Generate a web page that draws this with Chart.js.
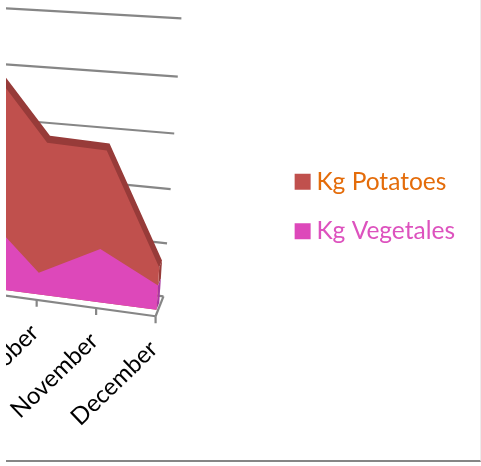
<!DOCTYPE html>
<html>
<head>
<meta charset="utf-8">
<script src="https://cdn.jsdelivr.net/npm/chart.js@4"></script>
<style>
html,body{margin:0;padding:0;background:#fff;overflow:hidden}
#frame{position:absolute;left:6px;top:0;width:474px;height:460px;border-bottom:2px solid #868686;border-right:1px solid #ececec;overflow:hidden}
canvas{display:block;margin-left:-4px}
</style>
</head>
<body>
<div id="frame"><canvas id="c" width="478" height="460"></canvas></div>
<script>
// --- data ---
const categories = ['September', 'October', 'November', 'December'];
const seriesNames = ['Kg Potatoes', 'Kg Vegetales'];
const potatoes = [395, 280, 280, 80];
const vegetales = [140, 41, 100, 46];
const tickValues = [0, 100, 200, 300, 400, 500];
const shownLabels = ['October', 'November', 'December'];

// --- 3D look: turns (month, kg) into the oblique view of the original ---
const height3d = v => 52.4 * (v / 100) + 0.67 * (v / 100) * (v / 100);
function project(i, v, depth) {
  const bx = -23.4 + 59.8 * i;
  const by = 290 + 0.13 * (bx - 6);
  const h = height3d(v);
  return { x: bx + 0.065 * h + 2.8 * (depth || 0), y: by - h - 7 * (depth || 0) };
}
function wall(v, x) {
  const k = v / 100;
  const xEnd = 163 + 3.6 * k;
  const yEnd = 296 - height3d(v);
  const slope = 0.125 - 0.0136 * k;
  const px = x === undefined ? xEnd : x;
  return { x: px, y: yEnd - slope * (xEnd - px) };
}
const axisPt = i => { const x = 35.7 + 59.7 * (i - 1); return { x, y: 295.5 + 0.1375 * (x - 6) }; };

const last = categories.length - 1;
const area = vals => vals.map((v, i) => project(i, v)).concat([project(last, 0), project(0, 0)]);
const band = vals => vals.map((v, i) => project(i, v, 1))
  .concat(vals.map((v, i) => project(last - i, vals[last - i], -0.4)));
const poly = (label, data, color, order) => ({
  label, data, order, showLine: true, fill: 'shape', backgroundColor: color,
  borderWidth: 0, pointRadius: 0, clip: false
});
const stroke = (label, data, order) => ({
  label, data, order, showLine: true, fill: false, borderColor: '#868686',
  borderWidth: 2.2, pointRadius: 0, clip: false
});

const datasets = [];
tickValues.forEach(v => datasets.push(stroke('grid ' + v, [wall(v, 0), wall(v)], 9)));
datasets.push(stroke('front axis', [axisPt(0), axisPt(last)], 8));
categories.forEach((c, i) => {
  if (i === 0) return;
  const p = axisPt(i);
  datasets.push(stroke('tick ' + c, [p, { x: p.x, y: p.y + 7 }], 8));
});
datasets.push(stroke('floor edge', [axisPt(last), wall(0)], 8));
datasets.push(poly('side low', [project(last, vegetales[last], 0), project(last, vegetales[last], 1), project(last, 0, 1), project(last, 0, 0)], '#A838A0', 6));
datasets.push(poly('side high', [project(last, potatoes[last], 0), project(last, potatoes[last], 1), project(last, vegetales[last], 1), project(last, vegetales[last], 0)], '#973B39', 6));
datasets.push(poly('band', band(potatoes), '#973B39', 5));
datasets.push(poly(seriesNames[0], area(potatoes), '#C0504D', 4));
datasets.push(poly(seriesNames[1], area(vegetales), '#DD48BA', 3));

const monthLabels = {
  id: 'monthLabels',
  afterDraw(chart) {
    const ctx = chart.ctx;
    ctx.save();
    ctx.fillStyle = '#000';
    ctx.font = '24px Lato';
    ctx.textAlign = 'right';
    ctx.textBaseline = 'middle';
    categories.forEach((c, i) => {
      if (!shownLabels.includes(c)) return;
      const p = axisPt(i);
      const px = chart.scales.x.getPixelForValue(p.x - 2);
      const py = chart.scales.y.getPixelForValue(p.y + 29);
      ctx.save();
      ctx.translate(px, py);
      ctx.rotate(-44 * Math.PI / 180);
      ctx.fillText(c, 0, 0);
      ctx.restore();
    });
    ctx.restore();
  }
};

const chart = new Chart(document.getElementById('c'), {
  type: 'scatter',
  data: { datasets },
  plugins: [monthLabels],
  options: {
    responsive: false,
    animation: false,
    layout: { padding: { left: 0, top: 0, right: 15, bottom: 47 } },
    scales: {
      x: { type: 'linear', display: false, min: 2, max: 300 },
      y: { type: 'linear', display: false, reverse: true, min: 0, max: 411 }
    },
    plugins: {
      tooltip: { enabled: false },
      legend: {
        display: true,
        position: 'right',
        labels: {
          usePointStyle: true,
          boxWidth: 3,
          boxHeight: 16,
          padding: 25,
          font: { family: 'Lato', size: 24.5 },
          generateLabels: () => [
            { text: seriesNames[0], fillStyle: '#C0504D', strokeStyle: '#C0504D', fontColor: '#E46C0A', pointStyle: 'rect', lineWidth: 0, datasetIndex: 0 },
            { text: seriesNames[1], fillStyle: '#DD48BA', strokeStyle: '#DD48BA', fontColor: '#DD52BE', pointStyle: 'rect', lineWidth: 0, datasetIndex: 1 }
          ]
        }
      }
    }
  }
});
chart.options.scales.x.min = 2 + chart.chartArea.left;
chart.options.scales.x.max = 2 + chart.chartArea.right;
chart.options.scales.y.max = chart.chartArea.bottom;
chart.update('none');
</script>
</body>
</html>
